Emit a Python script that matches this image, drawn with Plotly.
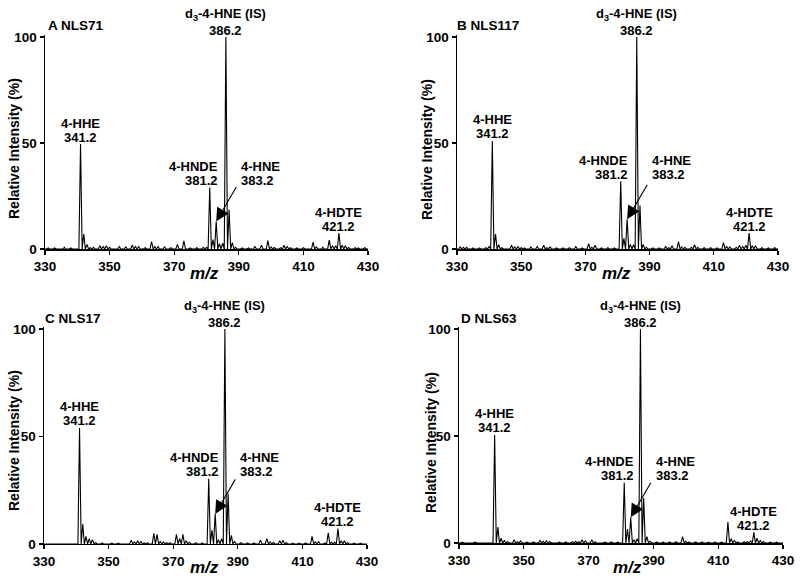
import plotly.graph_objects as go

# ---------------- data (m/z, relative intensity %) ----------------
panel_names = ["A NLS71", "B NLS117", "C NLS17", "D NLS63"]

mz_A = [331, 333, 336, 338, 341, 342, 343, 344, 345, 347, 348, 349, 350, 353, 355, 357, 358, 359, 361,
        363, 364, 365, 367, 369, 371, 373, 375, 377, 379, 380, 381, 382, 383, 384, 385, 386, 387, 388,
        389, 391, 393, 395, 397, 399, 400, 401, 403, 404, 405, 406, 408, 410, 413, 414, 416, 418, 419,
        420, 421, 422, 423, 424, 426, 427, 429]
int_A = [0.5, 0.5, 0.8, 0.5, 49.5, 7.0, 2.2, 0.6, 0.8, 1.5, 1.2, 1.5, 0.8, 1.2, 1.0, 1.8, 1.2, 1.2, 0.6,
         3.5, 1.2, 1.2, 1.0, 0.6, 2.2, 3.8, 0.5, 0.6, 0.8, 0.8, 29.0, 4.5, 13.0, 2.5, 2.8, 100.0, 18.5, 3.0,
         0.8, 0.5, 0.5, 1.2, 1.8, 4.0, 1.0, 0.7, 0.6, 1.8, 1.2, 0.6, 0.5, 0.6, 3.2, 1.0, 0.8, 4.2, 1.5,
         1.5, 7.5, 1.8, 1.5, 0.7, 0.6, 0.5, 0.6]

mz_B = [331, 332, 333, 335, 337, 339, 340, 341, 342, 343, 344, 347, 348, 349, 350, 351, 353, 355, 357,
        358, 359, 361, 363, 365, 367, 369, 371, 372, 373, 375, 377, 379, 381, 382, 383, 384, 385, 386,
        387, 388, 389, 391, 393, 395, 396, 397, 399, 400, 401, 403, 404, 405, 407, 409, 411, 413, 414,
        415, 417, 418, 419, 420, 421, 422, 423, 425, 427, 429]
int_B = [1.0, 0.8, 0.8, 0.5, 0.5, 0.6, 1.2, 51.0, 7.0, 2.0, 0.6, 1.8, 1.0, 1.2, 0.6, 0.5, 1.0, 1.2, 1.8,
         0.6, 1.0, 0.5, 0.5, 0.6, 1.2, 0.5, 2.5, 0.8, 1.8, 0.5, 0.6, 0.5, 32.0, 5.0, 14.0, 2.2, 2.0, 100.0,
         20.5, 2.2, 0.8, 0.5, 0.5, 1.2, 0.6, 1.5, 3.5, 1.0, 0.8, 0.8, 2.0, 0.8, 0.6, 0.6, 0.5, 3.0, 1.2,
         1.0, 0.8, 1.8, 1.2, 1.8, 7.5, 1.5, 1.5, 0.6, 0.5, 0.6]

mz_C = [336, 341, 342, 343, 344, 345, 346, 348, 351, 353, 357, 358, 359, 360, 361, 362, 364, 365, 366,
        367, 368, 369, 371, 372, 373, 374, 375, 377, 379, 381, 382, 383, 384, 385, 386, 387, 388, 389,
        391, 393, 395, 397, 399, 400, 401, 403, 404, 405, 407, 409, 411, 413, 414, 415, 417, 418, 419,
        420, 421, 422, 423, 424, 426, 428]
int_C = [0.3, 54.0, 9.3, 3.5, 2.5, 2.0, 0.6, 0.5, 0.4, 0.4, 1.8, 1.0, 1.5, 1.2, 0.5, 0.6, 5.0, 4.5, 1.2,
         1.0, 0.6, 0.6, 4.5, 2.5, 4.5, 1.5, 0.8, 0.6, 0.5, 30.3, 6.5, 14.0, 2.0, 2.5, 100.0, 23.5, 4.0, 1.2,
         0.6, 0.5, 0.5, 1.8, 2.5, 1.0, 0.7, 1.5, 1.8, 0.6, 0.4, 0.4, 0.5, 3.5, 1.0, 1.2, 0.5, 5.2, 0.8,
         0.8, 7.2, 1.5, 1.5, 0.6, 0.4, 0.4]

mz_D = [331, 335, 339, 341, 342, 343, 344, 345, 347, 348, 349, 351, 353, 355, 356, 357, 358, 361, 363,
        365, 366, 367, 368, 369, 371, 372, 375, 377, 379, 381, 382, 383, 384, 385, 386, 387, 388, 389,
        391, 393, 395, 397, 399, 400, 401, 403, 405, 407, 409, 411, 413, 414, 415, 416, 418, 419, 420,
        421, 422, 423, 424, 426, 428]
int_D = [0.4, 0.4, 0.3, 50.5, 7.5, 2.2, 1.2, 0.6, 1.5, 0.6, 1.0, 0.4, 0.5, 1.2, 0.8, 1.0, 0.6, 0.4, 0.5,
         0.6, 0.8, 0.6, 1.5, 1.0, 1.5, 0.5, 0.4, 0.5, 0.4, 28.3, 6.5, 12.0, 1.5, 2.0, 100.0, 21.0, 3.0, 0.8,
         0.5, 0.4, 0.5, 0.6, 3.0, 0.8, 0.5, 0.5, 0.5, 0.4, 0.5, 0.4, 9.8, 2.0, 1.2, 0.5, 0.6, 0.6, 1.0,
         5.0, 2.2, 1.2, 0.6, 0.4, 0.4]

spectra_mz = [mz_A, mz_B, mz_C, mz_D]
spectra_int = [int_A, int_B, int_C, int_D]

x_ticks = [330, 350, 370, 390, 410, 430]
y_ticks = [0, 50, 100]

# labelled peaks: (name, nominal m/z, label m/z)
lbl_HHE = ("4-HHE", 341, "341.2")
lbl_HNDE = ("4-HNDE", 381, "381.2")
lbl_HNE = ("4-HNE", 383, "383.2")
lbl_IS = ("d<sub>3</sub>-4-HNE (IS)", 386, "386.2")
lbl_HDTE = ("4-HDTE", 421, "421.2")

# ---------------- layout geometry (paper fractions) ----------------
x_domains = [[0.05625, 0.46], [0.57125, 0.9725], [0.055, 0.45875], [0.57375, 0.97875]]
y_domains = [[0.5736, 0.9402], [0.5736, 0.9402], [0.0685, 0.4403], [0.0702, 0.4403]]
title_pos = [(46, 25), (455, 25), (43, 318), (459, 318)]
ytitle_pos = [(14, 149), (427, 149), (14, 441), (431, 442)]
xtitle_pos = [(204, 273), (616, 273), (205, 567), (627, 567)]
hnde_xshift = [10, 9, 12, 12]

W, H = 800, 584
FONT = "Liberation Sans, Arial, Helvetica, sans-serif"
HALF = 0.5

fig = go.Figure()


def profile(mzs, ints):
    xs, ys = [330], [0]
    for m, h in sorted(zip(mzs, ints)):
        xs += [m - HALF, m, m + HALF]
        ys += [0, h, 0]
    xs.append(430)
    ys.append(0)
    return xs, ys


annotations = []
lab_font = dict(family=FONT, size=13, color="black", weight="bold")

for i in range(4):
    sfx = "" if i == 0 else str(i + 1)
    xs, ys = profile(spectra_mz[i], spectra_int[i])
    fig.add_trace(go.Scatter(x=xs, y=ys, mode="lines", line=dict(color="black", width=1.1),
                             xaxis="x" + sfx, yaxis="y" + sfx, showlegend=False, hoverinfo="skip"))
    axis_common = dict(showline=True, linecolor="black", linewidth=1.5, ticks="outside", ticklen=4,
                       tickwidth=1.2, tickcolor="black", showgrid=False, zeroline=False,
                       automargin=False,
                       tickfont=dict(family=FONT, size=13.5, color="black", weight="bold"))
    fig.update_layout(**{
        "xaxis" + sfx: dict(domain=x_domains[i], anchor="y" + sfx, range=[330, 430],
                            tickvals=x_ticks, **axis_common),
        "yaxis" + sfx: dict(domain=y_domains[i], anchor="x" + sfx, range=[0, 101],
                            tickvals=y_ticks, **axis_common),
    })
    xr, yr = "x" + sfx, "y" + sfx
    height = dict(zip(spectra_mz[i], spectra_int[i]))

    def two_line(name, mass, x, y, xanchor="center", xshift=0, gap=14, base=7):
        annotations.append(dict(x=x, y=y, xref=xr, yref=yr, text=mass, showarrow=False,
                                xanchor=xanchor, yanchor="middle", xshift=xshift, yshift=base,
                                font=lab_font))
        annotations.append(dict(x=x, y=y, xref=xr, yref=yr, text=name, showarrow=False,
                                xanchor=xanchor, yanchor="middle", xshift=xshift, yshift=base + gap,
                                font=lab_font))

    # centred labels
    for (name, m, mass), gap in ((lbl_HHE, 14), (lbl_HDTE, 14), (lbl_IS, 16)):
        two_line(name, mass, m, height[m], gap=gap)
    # 4-HNDE right aligned beside its peak
    name, m, mass = lbl_HNDE
    two_line(name, mass, m, height[m], xanchor="right", xshift=hnde_xshift[i])
    # 4-HNE text at the same height, arrow down to its peak
    name, m5, mass5 = lbl_HNE
    two_line(name, mass5, m5, height[m], xanchor="left", xshift=23)
    annotations.append(dict(x=m5, y=height[m5], xref=xr, yref=yr, text="", showarrow=True,
                            ax=21, ay=-36, arrowhead=2, arrowsize=2.4, arrowwidth=1.1,
                            arrowcolor="black", standoff=0))

    # panel title
    tx, ty = title_pos[i]
    annotations.append(dict(x=tx / W, y=1 - ty / H, xref="paper", yref="paper", text=panel_names[i],
                            showarrow=False, xanchor="left", yanchor="middle",
                            font=dict(family=FONT, size=13.5, color="black", weight="bold")))
    # axis titles
    ax_, ay_ = ytitle_pos[i]
    annotations.append(dict(x=ax_ / W, y=1 - ay_ / H, xref="paper", yref="paper",
                            text="Relative Intensity (%)", textangle=-90, showarrow=False,
                            xanchor="center", yanchor="middle",
                            font=dict(family=FONT, size=14, color="black", weight="bold")))
    bx, by = xtitle_pos[i]
    annotations.append(dict(x=bx / W, y=1 - by / H, xref="paper", yref="paper",
                            text="<i>m/z</i>", showarrow=False, xanchor="center", yanchor="middle",
                            font=dict(family=FONT, size=17, color="black", weight="bold")))

fig.update_layout(width=W, height=H, autosize=False, margin=dict(l=0, r=0, t=0, b=0),
                  paper_bgcolor="white", plot_bgcolor="white", annotations=annotations,
                  hovermode=False)

fig.write_html("out.html", config={"displayModeBar": False, "staticPlot": True},
               post_script="document.body.style.margin='0';document.body.style.overflow='hidden';")
